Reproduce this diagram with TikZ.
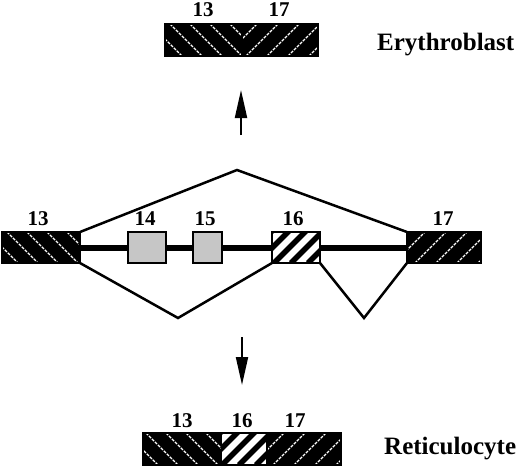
\documentclass[tikz,border=0pt]{standalone}
\usepackage{fontspec}
\setmainfont{Liberation Serif}
\usetikzlibrary{arrows.meta,backgrounds}
\begin{document}
\begin{tikzpicture}[x=1pt,y=-1pt,
  box/.style={draw=black, line width=1.2pt, inner sep=0pt, outer sep=0pt, minimum height=31pt},
  blackbox/.style={box, fill=black},
  greybox/.style={box, fill=gray!45},
  whitebox/.style={box, fill=white},
  whst/.style={white, line width=1.3pt, dash pattern=on 3pt off 1.2pt},
  blst/.style={black, line width=5.5pt},
  bhatch/.style={path picture={\foreach \k in {-3,...,8}
      \draw[whst] ([xshift=\k*20pt+#1pt]path picture bounding box.north west) -- ++(60pt,-60pt);}},
  fhatch/.style={path picture={\foreach \k in {-3,...,8}
      \draw[whst] ([xshift=\k*21pt+#1pt]path picture bounding box.south west) -- ++(60pt,60pt);}},
  khatch/.style={path picture={\foreach \k in {-3,...,8}
      \draw[blst] ([xshift=\k*17pt+#1pt]path picture bounding box.south west) -- ++(60pt,60pt);}},
  num/.style={font=\fontsize{21}{21}\selectfont\bfseries, inner sep=0pt, anchor=base},
  word/.style={font=\fontsize{25}{25}\selectfont\bfseries, inner sep=0pt, anchor=base west},
  splice/.style={line width=2.5pt, line join=miter},
  intron/.style={line width=6pt},
  arr/.style={line width=2pt, -{Triangle[length=28pt,width=12pt]}}
]
\useasboundingbox (0,0) rectangle (520,469);

% top product
\node[blackbox, bhatch=5, minimum width=77pt, minimum height=32pt] (t13) at (203.5,40) {};
\node[blackbox, fhatch=4, minimum width=76pt, minimum height=32pt] (t17) at (280,40) {};
\draw[line width=1.2pt] (t13.north west) rectangle (t17.south east);
\node[num] (tl13) at (203,16) {13};
\node[num] (tl17) at (279,16) {17};
\node[word] (ery) at (377,50) {Erythroblast};

% arrows
\coordinate (ua0) at (241,135);
\coordinate (ua1) at (241,90);
\draw[arr] (ua0) -- (ua1);
\coordinate (da0) at (242,337);
\coordinate (da1) at (242,385);
\draw[arr] (da0) -- (da1);

% gene
\node[blackbox, bhatch=5, minimum width=78pt] (e13) at (41,247.5) {};
\node[greybox, minimum width=38pt] (e14) at (147,247.5) {};
\node[greybox, minimum width=29pt] (e15) at (207.5,247.5) {};
\node[whitebox, khatch=2, minimum width=48pt] (e16) at (296,247.5) {};
\node[blackbox, fhatch=8, minimum width=74pt] (e17) at (444,247.5) {};
\begin{scope}[on background layer]
\draw[intron] (e13.east) -- (e17.west);
\end{scope}
\node[num] (l13) at (38,225) {13};
\node[num] (l14) at (145,225) {14};
\node[num] (l15) at (205,225) {15};
\node[num] (l16) at (293,225) {16};
\node[num] (l17) at (443,225) {17};

\coordinate (apex) at (237,170);
\coordinate (v1) at (178,318);
\coordinate (v2) at (364,318);
\draw[splice] (e13.north east) -- (apex) -- (e17.north west);
\draw[splice] (e13.south east) -- (v1) -- (e16.south west);
\draw[splice] (e16.south east) -- (v2) -- (e17.south west);

% bottom product
\node[blackbox, bhatch=3, minimum width=79pt, minimum height=32pt] (b13) at (182.5,449) {};
\node[whitebox, khatch=0, draw=none, minimum width=45pt, minimum height=32pt] (b16) at (244.5,449) {};
\node[blackbox, fhatch=6, minimum width=74pt, minimum height=32pt] (b17) at (304,449) {};
\draw[line width=1.2pt] (b13.north west) rectangle (b17.south east);
\node[num] (bl13) at (182,427) {13};
\node[num] (bl16) at (242,427) {16};
\node[num] (bl17) at (295,427) {17};
\node[word] (ret) at (384,454) {Reticulocyte};
\end{tikzpicture}
\end{document}
